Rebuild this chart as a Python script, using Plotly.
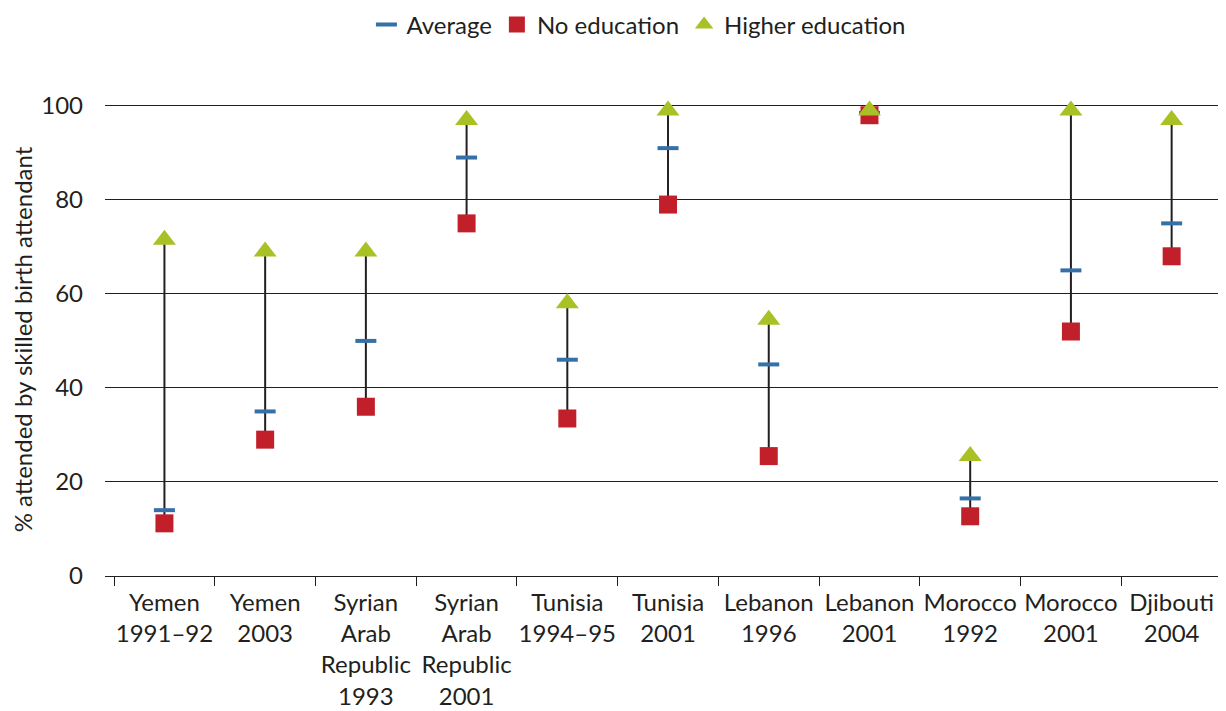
import plotly.graph_objects as go

categories = [
    "Yemen<br>1991–92", "Yemen<br>2003", "Syrian<br>Arab<br>Republic<br>1993",
    "Syrian<br>Arab<br>Republic<br>2001", "Tunisia<br>1994–95", "Tunisia<br>2001",
    "Lebanon<br>1996", "Lebanon<br>2001", "Morocco<br>1992", "Morocco<br>2001",
    "Djibouti<br>2004",
]
average = [14, 35, 50, 89, 46, 91, 45, 98.5, 16.5, 65, 75]
no_education = [11.2, 29, 36, 75, 33.5, 79, 25.5, 98, 12.7, 52, 68]
higher_education = [71.5, 69, 69, 97, 58, 99, 54.5, 99, 25.5, 99, 97]

FONT = "Lato"
TXT = "#231f20"
FS = 24

# connecting lines (no education -> higher education)
lx, ly = [], []
for c, lo, hi in zip(categories, no_education, higher_education):
    lx += [c, c, None]
    ly += [lo, hi, None]

fig = go.Figure()
fig.add_trace(go.Scatter(
    x=lx, y=ly, mode="lines", line=dict(color="#231f20", width=2),
    showlegend=False, hoverinfo="skip", cliponaxis=False,
))
fig.add_trace(go.Scatter(
    x=categories, y=average, mode="markers", name="Average",
    marker=dict(symbol="line-ew", size=15, line=dict(color="#3570a8", width=4)),
    cliponaxis=False,
))
fig.add_trace(go.Scatter(
    x=categories, y=no_education, mode="markers", name="No education",
    marker=dict(symbol="square", size=18, color="#c1202a", line=dict(width=0)),
    cliponaxis=False,
))
fig.add_trace(go.Scatter(
    x=categories, y=higher_education, mode="markers", name="Higher education",
    marker=dict(symbol="triangle-up", size=20, color="#a9c125", line=dict(width=0)),
    cliponaxis=False,
))

# page body has an 8px default margin, so the figure is 8px smaller and shifted
fig.update_layout(
    width=1218, height=703,
    margin=dict(l=97, r=4, t=95, b=135, autoexpand=False),
    paper_bgcolor="white", plot_bgcolor="white",
    font=dict(family=FONT, size=FS, color=TXT),
    legend=dict(
        orientation="h", x=0.478, xanchor="center", y=1.165, yanchor="middle",
        font=dict(family=FONT, size=FS, color=TXT),
        traceorder="normal", bgcolor="rgba(0,0,0,0)",
    ),
    showlegend=True,
)
fig.update_xaxes(
    type="category", range=[-0.59, 10.5], automargin=False,
    tickmode="array", tickvals=categories, ticktext=categories,
    tickson="boundaries", ticks="outside", ticklen=9, tickcolor="#231f20", tickwidth=1.2,
    ticklabelstandoff=5,
    showgrid=False, showline=True, linecolor="#231f20", linewidth=1.2,
    tickfont=dict(family=FONT, size=FS, color=TXT), tickangle=0,
    zeroline=False,
)
fig.update_yaxes(
    range=[0, 100.6], tickvals=[0, 20, 40, 60, 80, 100], automargin=False,
    showgrid=True, gridcolor="#231f20", gridwidth=1.2,
    zeroline=False, showline=False, ticks="",
    ticklabelstandoff=21,
    tickfont=dict(family=FONT, size=FS, color=TXT),
    title=dict(text="% attended by skilled birth attendant", standoff=12,
               font=dict(family=FONT, size=FS, color=TXT)),
)

fig.write_html("out.html")
